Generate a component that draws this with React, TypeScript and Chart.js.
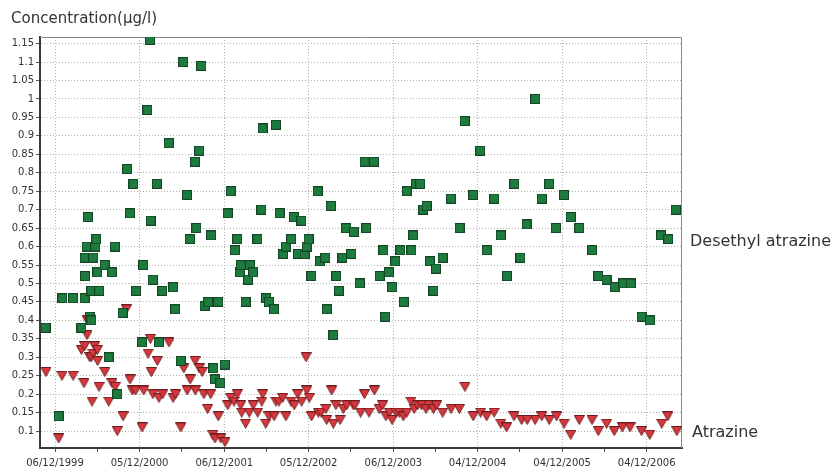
import React, { useEffect, useRef } from 'react';
import { Chart, registerables } from 'chart.js';

Chart.register(...registerables);

// ---- Data (x = days since 06/12/1999) ----
const xTickDays = [0, 365, 731, 1095, 1461, 1825, 2190, 2555];
const xTickLabels = ['06/12/1999', '05/12/2000', '06/12/2001', '05/12/2002', '06/12/2003', '04/12/2004', '04/12/2005', '04/12/2006'];
const yTicks = [0.1, 0.15, 0.2, 0.25, 0.3, 0.35, 0.4, 0.45, 0.5, 0.55, 0.6, 0.65, 0.7, 0.75, 0.8, 0.85, 0.9, 0.95, 1, 1.05, 1.1, 1.15];

const yAxisTitle = 'Concentration(µg/l)';
const seriesNames = ['Desethyl atrazine', 'Atrazine'];

const desethylDays = [
  -41, 16, 32, 78, 114, 128, 128, 129, 137, 142, 150, 157, 157, 165, 174, 178, 183, 191, 215, 232,
  246, 259, 269, 292, 311, 324, 338, 350, 376, 381, 399, 410, 413, 423, 440, 449, 463, 491, 510, 519,
  543, 554, 570, 582, 605, 610, 623, 632, 646, 661, 674, 684, 691, 705, 714, 733, 746, 759, 777, 787,
  798, 802, 823, 833, 842, 856, 874, 891, 897, 911, 924, 946, 954, 970, 985, 997, 1020, 1031, 1049, 1064,
  1078, 1087, 1095, 1107, 1134, 1144, 1167, 1174, 1192, 1202, 1215, 1226, 1241, 1257, 1279, 1291, 1316, 1337, 1344, 1377,
  1402, 1418, 1426, 1442, 1456, 1469, 1491, 1506, 1519, 1539, 1547, 1559, 1577, 1590, 1605, 1619, 1634, 1645, 1674, 1710,
  1747, 1769, 1806, 1836, 1865, 1897, 1925, 1952, 1983, 2010, 2037, 2074, 2102, 2134, 2163, 2198, 2227, 2264, 2319, 2346,
  2382, 2417, 2454, 2486, 2533, 2569, 2617, 2648, 2681,
];
const desethylValues = [
  0.38, 0.14, 0.46, 0.46, 0.38, 0.46, 0.57, 0.52, 0.60, 0.68, 0.41, 0.40, 0.48, 0.57, 0.60, 0.62, 0.53, 0.48, 0.55, 0.30,
  0.53, 0.60, 0.20, 0.42, 0.81, 0.69, 0.77, 0.48, 0.34, 0.55, 0.97, 1.16, 0.67, 0.51, 0.77, 0.34, 0.48, 0.88, 0.49, 0.43,
  0.29, 1.10, 0.74, 0.62, 0.83, 0.65, 0.86, 1.09, 0.44, 0.45, 0.63, 0.27, 0.24, 0.45, 0.23, 0.28, 0.69, 0.75, 0.59, 0.62,
  0.53, 0.55, 0.45, 0.51, 0.55, 0.53, 0.62, 0.70, 0.92, 0.46, 0.45, 0.43, 0.93, 0.69, 0.58, 0.60, 0.62, 0.68, 0.58, 0.67,
  0.58, 0.60, 0.62, 0.52, 0.75, 0.56, 0.57, 0.43, 0.71, 0.36, 0.52, 0.48, 0.57, 0.65, 0.58, 0.64, 0.50, 0.83, 0.65, 0.83,
  0.52, 0.59, 0.41, 0.53, 0.49, 0.56, 0.59, 0.45, 0.75, 0.59, 0.63, 0.77, 0.77, 0.70, 0.71, 0.56, 0.48, 0.54, 0.57, 0.73,
  0.65, 0.94, 0.74, 0.86, 0.59, 0.73, 0.63, 0.52, 0.77, 0.57, 0.66, 1.00, 0.73, 0.77, 0.65, 0.74, 0.68, 0.65, 0.59, 0.52,
  0.51, 0.49, 0.50, 0.50, 0.41, 0.40, 0.63, 0.62, 0.70,
];

const atrazineDays = [
  -39, 16, 30, 78, 114, 125, 128, 138, 139, 150, 157, 160, 164, 171, 183, 184, 190, 215, 232, 246,
  260, 269, 294, 308, 324, 334, 348, 376, 383, 402, 412, 416, 423, 442, 449, 465, 492, 510, 521, 543,
  556, 571, 584, 605, 606, 623, 636, 643, 659, 672, 681, 691, 705, 716, 734, 746, 759, 773, 787, 802,
  806, 823, 839, 856, 875, 893, 897, 910, 924, 946, 954, 967, 983, 997, 1019, 1033, 1048, 1065, 1084, 1087,
  1098, 1108, 1137, 1149, 1170, 1173, 1195, 1202, 1213, 1231, 1245, 1260, 1288, 1295, 1320, 1336, 1356, 1379, 1400, 1415,
  1429, 1444, 1456, 1472, 1487, 1504, 1519, 1537, 1551, 1566, 1583, 1602, 1616, 1634, 1648, 1674, 1710, 1746, 1770, 1806,
  1838, 1864, 1896, 1925, 1950, 1982, 2015, 2039, 2073, 2102, 2134, 2166, 2198, 2227, 2264, 2319, 2346, 2382, 2415, 2450,
  2483, 2533, 2568, 2620, 2646, 2685,
];
const atrazineValues = [
  0.26, 0.08, 0.25, 0.25, 0.32, 0.23, 0.33, 0.36, 0.40, 0.30, 0.30, 0.18, 0.31, 0.33, 0.32, 0.29, 0.22, 0.26, 0.18, 0.23,
  0.22, 0.10, 0.14, 0.43, 0.24, 0.21, 0.21, 0.11, 0.21, 0.31, 0.35, 0.26, 0.20, 0.29, 0.19, 0.20, 0.34, 0.19, 0.20, 0.11,
  0.27, 0.21, 0.24, 0.29, 0.21, 0.27, 0.26, 0.20, 0.16, 0.20, 0.09, 0.08, 0.14, 0.08, 0.07, 0.17, 0.19, 0.18, 0.20, 0.17,
  0.15, 0.12, 0.15, 0.17, 0.15, 0.18, 0.20, 0.12, 0.14, 0.14, 0.18, 0.18, 0.19, 0.14, 0.18, 0.17, 0.20, 0.18, 0.30, 0.21,
  0.19, 0.14, 0.15, 0.15, 0.16, 0.13, 0.21, 0.12, 0.17, 0.13, 0.16, 0.17, 0.17, 0.17, 0.15, 0.20, 0.15, 0.21, 0.16, 0.17,
  0.14, 0.15, 0.13, 0.15, 0.15, 0.14, 0.15, 0.18, 0.16, 0.17, 0.17, 0.16, 0.17, 0.16, 0.17, 0.15, 0.16, 0.16, 0.22, 0.14,
  0.15, 0.14, 0.15, 0.12, 0.11, 0.14, 0.13, 0.13, 0.13, 0.14, 0.13, 0.14, 0.12, 0.09, 0.13, 0.13, 0.10, 0.12, 0.10, 0.11,
  0.11, 0.10, 0.09, 0.12, 0.14, 0.10,
];

const FONT = "'DejaVu Sans', Verdana, sans-serif";

function makeSquare(): HTMLCanvasElement {
  const c = document.createElement('canvas');
  c.width = 10;
  c.height = 10;
  const g = c.getContext('2d')!;
  g.fillStyle = '#1e7b3e';
  g.fillRect(0, 0, 10, 10);
  g.strokeStyle = '#124624';
  g.lineWidth = 1;
  g.strokeRect(0.5, 0.5, 9, 9);
  return c;
}

function makeTriangle(): HTMLCanvasElement {
  const c = document.createElement('canvas');
  c.width = 11;
  c.height = 10;
  const g = c.getContext('2d')!;
  g.beginPath();
  g.moveTo(0.5, 0.5);
  g.lineTo(10.5, 0.5);
  g.lineTo(5.5, 9.5);
  g.closePath();
  g.fillStyle = '#d8383d';
  g.fill();
  g.strokeStyle = '#6a1b1e';
  g.lineWidth = 1;
  g.stroke();
  return c;
}

export default function App() {
  const ref = useRef<HTMLCanvasElement>(null);

  useEffect(() => {
    const canvas = ref.current;
    if (!canvas) return;
    const majorSet = new Set(xTickDays);

    const decorations = {
      id: 'decorations',
      beforeDatasetsDraw(chart: any) {
        const { ctx, chartArea: a } = chart;
        ctx.save();
        ctx.strokeStyle = '#8a8a8a';
        ctx.lineWidth = 1;
        ctx.beginPath();
        ctx.moveTo(a.left, a.top + 0.5);
        ctx.lineTo(a.right - 0.5, a.top + 0.5);
        ctx.lineTo(a.right - 0.5, a.bottom);
        ctx.stroke();
        ctx.restore();
      },
      afterDraw(chart: any) {
        const { ctx, chartArea: a } = chart;
        ctx.save();
        ctx.fillStyle = '#333';
        ctx.textBaseline = 'alphabetic';
        ctx.textAlign = 'left';
        ctx.font = `15px ${FONT}`;
        ctx.fillText(yAxisTitle, 11, 22.5);
        ctx.font = `16px ${FONT}`;
        ctx.fillText(seriesNames[0], a.right + 8, 246);
        ctx.fillText(seriesNames[1], a.right + 10, 437);
        ctx.restore();
      },
    };

    const chart = new Chart(canvas, {
      type: 'scatter',
      data: {
        datasets: [
          {
            label: seriesNames[0],
            data: desethylDays.map((d, i) => ({ x: d, y: desethylValues[i] })),
            pointStyle: makeSquare() as any,
            pointRadius: 5,
            showLine: false,
          },
          {
            label: seriesNames[1],
            data: atrazineDays.map((d, i) => ({ x: d, y: atrazineValues[i] })),
            pointStyle: makeTriangle() as any,
            pointRadius: 5,
            showLine: false,
          },
        ],
      },
      options: {
        responsive: false,
        animation: false,
        layout: { padding: { top: 37, right: 149, left: 0, bottom: 0 } },
        plugins: {
          legend: { display: false },
          tooltip: { enabled: false },
          title: { display: false },
        },
        scales: {
          x: {
            type: 'linear',
            min: -64.8,
            max: 2707.5,
            afterBuildTicks: (s: any) => {
              const t: any[] = [];
              xTickDays.forEach((d, i) => {
                t.push({ value: d });
                if (i < xTickDays.length - 1) t.push({ value: (d + xTickDays[i + 1]) / 2 });
              });
              s.ticks = t;
            },
            afterFit: (s: any) => {
              s.height = 21;
            },
            ticks: {
              autoSkip: false,
              maxRotation: 0,
              minRotation: 0,
              padding: 5,
              color: '#333',
              font: { family: FONT, size: 10 },
              callback: (v: any) => {
                const i = xTickDays.indexOf(Number(v));
                return i >= 0 ? xTickLabels[i] : '';
              },
            },
            grid: {
              color: (c: any) => (c.tick && majorSet.has(c.tick.value) ? '#b0b0b0' : 'rgba(0,0,0,0)'),
              lineWidth: 1,
              tickColor: '#555',
              tickLength: 4,
            },
            border: { color: '#3a3a3a', width: 2, dash: [1, 2] },
          },
          y: {
            type: 'linear',
            min: 0.054,
            max: 1.168,
            afterBuildTicks: (s: any) => {
              s.ticks = yTicks.map((v) => ({ value: v }));
            },
            afterFit: (s: any) => {
              s.width = 40;
            },
            ticks: {
              autoSkip: false,
              padding: 2,
              color: '#333',
              font: { family: FONT, size: 10 },
              callback: (v: any) => String(v),
            },
            grid: {
              color: '#b0b0b0',
              lineWidth: 1,
              tickColor: '#555',
              tickLength: 4,
            },
            border: { color: '#3a3a3a', width: 2, dash: [1, 2] },
          },
        },
      },
      plugins: [decorations],
    });

    return () => chart.destroy();
  }, []);

  return (
    <div style={{ position: 'absolute', left: 0, top: 0, width: 831, height: 469, background: '#fff' }}>
      <canvas ref={ref} width={831} height={469} style={{ display: 'block' }} />
    </div>
  );
}
